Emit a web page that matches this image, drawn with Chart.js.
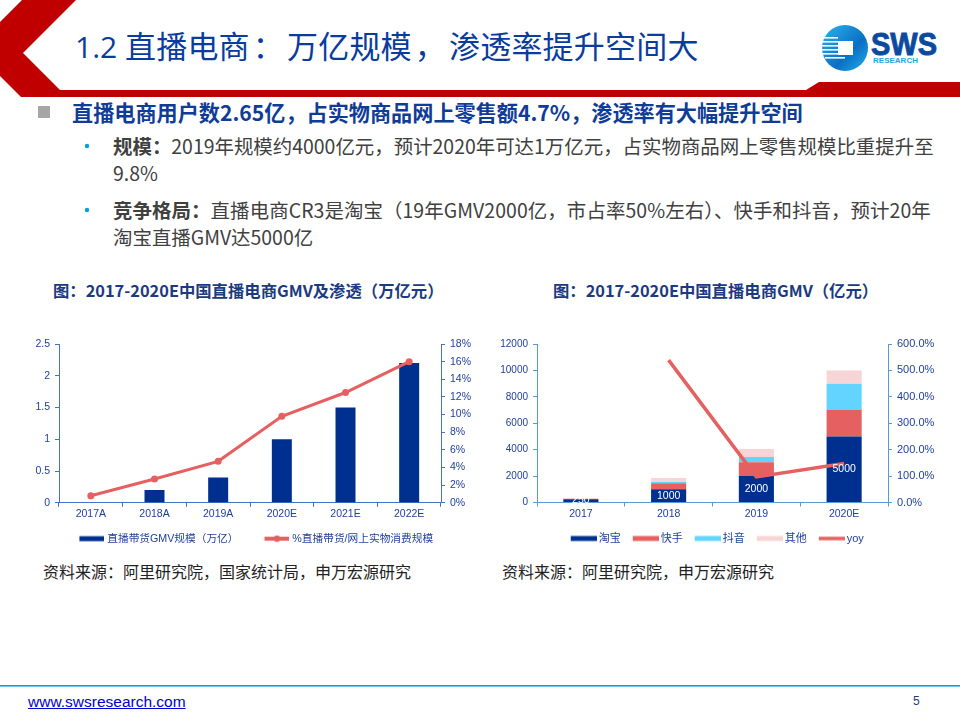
<!DOCTYPE html>
<html lang="zh"><head><meta charset="utf-8">
<script src="https://cdn.jsdelivr.net/npm/chart.js@4/dist/chart.umd.min.js"></script>
<style>
html,body{margin:0;padding:0;background:#fff;}
#s{position:relative;width:960px;height:720px;overflow:hidden;font-family:"Noto Sans CJK SC","Noto Sans",sans-serif;}
#s>div{position:absolute;white-space:nowrap;line-height:1;}
#s>svg{position:absolute;left:0;top:0;}
canvas{position:absolute;}
.h{color:#0a3c9c;font-family:"Open Sans","Noto Sans CJK TC",sans-serif;font-size:31px;left:75px;top:31px;letter-spacing:.2px;}
.h .n{font-size:30px;letter-spacing:0;}
.h .p{margin:0 3px;}
.b{color:#0f3c96;font-size:21.15px;font-weight:700;left:72px;top:101px;}
.t{color:#404040;font-size:19.45px;left:113px;}
.t b{font-weight:700;}
.c{color:#1c3a80;font-size:16.35px;font-weight:700;top:282px;}
.r{color:#222;font-size:16px;top:563px;}
</style></head><body><div id="s">
<svg width="960" height="720">
<defs><linearGradient id="g" x1="0" y1="0" x2="1" y2="1"><stop offset="0" stop-color="#2db4ee"/><stop offset=".6" stop-color="#0a6fc4"/><stop offset="1" stop-color="#22aee8"/></linearGradient></defs>
<polygon fill="#c00000" points="22,0 76,0 23,53 60,90 806,90 819,82 960,82 960,97 21,97 0,76 0,22"/>
<circle cx="845" cy="48" r="23" fill="url(#g)"/>
<g fill="#fff"><rect x="822" y="37" width="16" height="1.6"/><rect x="822" y="41" width="16" height="1.6"/><rect x="822" y="45" width="16" height="1.6"/><rect x="822" y="49" width="16" height="1.6"/><rect x="822" y="53" width="16" height="1.6"/><rect x="825" y="57" width="20" height="1.6"/><rect x="838" y="41" width="15" height="14"/></g>
<text x="871" y="55" font-family="Liberation Sans" font-weight="700" font-size="31" fill="#0b4a9f" stroke="#0b4a9f" stroke-width=".9" textLength="66" lengthAdjust="spacingAndGlyphs">SWS</text>
<text x="873" y="63" font-family="Liberation Sans" font-weight="700" font-size="7.5" fill="#1ba6df" textLength="45" lengthAdjust="spacingAndGlyphs">RESEARCH</text>
<rect x="38" y="106" width="12" height="12" fill="#a6a6a6"/>
<circle cx="87" cy="146" r="2.2" fill="#00a0e0"/><circle cx="87" cy="210" r="2.2" fill="#00a0e0"/>
<rect x="0" y="685" width="960" height="1.6" fill="#00a0e0"/>
</svg>
<div class="h"><span class="n">1.2 </span>直播电商<span class="p">：</span>万亿规模<span class="p">，</span>渗透率提升空间大</div>
<div class="b">直播电商用户数2.65亿，占实物商品网上零售额4.7%，渗透率有大幅提升空间</div>
<div class="t" style="top:136px"><b>规模：</b>2019年规模约4000亿元，预计2020年可达1万亿元，占实物商品网上零售规模比重提升至</div>
<div class="t" style="top:163px">9.8%</div>
<div class="t" style="top:200px;letter-spacing:.08px"><b>竞争格局：</b>直播电商CR3是淘宝（19年GMV2000亿，市占率50%左右）、快手和抖音，预计20年</div>
<div class="t" style="top:227px">淘宝直播GMV达5000亿</div>
<div class="c" style="left:53px">图：2017-2020E中国直播电商GMV及渗透（万亿元）</div>
<div class="c" style="left:553px">图：2017-2020E中国直播电商GMV（亿元）</div>
<div class="r" style="left:43px">资料来源：阿里研究院，国家统计局，申万宏源研究</div>
<div class="r" style="left:502px">资料来源：阿里研究院，申万宏源研究</div>
<div style="left:28px;top:693px;font:15.5px 'Liberation Sans';color:#0000d0;text-decoration:underline;">www.swsresearch.com</div>
<div style="left:913px;top:694px;font:12px 'Liberation Sans';color:#1c3a80;">5</div>
<canvas id="c1" width="462" height="225" style="left:15px;top:330px;width:462px;height:225px"></canvas>
<canvas id="c2" width="448" height="225" style="left:490px;top:330px;width:448px;height:225px"></canvas>
</div>
<script>
const years1 = ['2017A','2018A','2019A','2020E','2021E','2022E'];
const gmv1 = [0,0.2,0.4,1,1.5,2.2];
const share1 = [0.8,2.7,4.7,9.8,12.5,16];
const years2 = ['2017','2018','2019','2020E'];
const taobao = [250,1000,2000,5000];
const kuaishou = [40,450,1050,2000];
const douyin = [0,100,400,2000];
const others = [10,300,600,1000];
const yoy = [null,539,97,148];
const NAVY='#00308f', RED='#e56060', CYAN='#62d4ff', PINK='#f7d4d6', TXT='#1f3f99';
const FONT='"Liberation Sans","Noto Sans CJK SC",sans-serif';
Chart.defaults.animation=false; Chart.defaults.responsive=false;
Chart.defaults.font.family=FONT; Chart.defaults.font.size=10.5; Chart.defaults.color=TXT;

function swatch(total,w,h,color,dot){
  const c=document.createElement('canvas');c.width=total;c.height=12;
  const x=c.getContext('2d');x.fillStyle=color;
  x.fillRect(total-w,6-h/2,w,h);
  if(dot){x.beginPath();x.arc(total-w/2,6,3.2,0,Math.PI*2);x.fill();}
  return c;
}
function legend(order,swatches,width,pad,size){return {position:'bottom',labels:{usePointStyle:true,pointStyleWidth:width,padding:pad,boxHeight:10,
  color:TXT,font:{size:size,family:FONT},
  generateLabels:ch=>order.map((i,k)=>({text:ch.data.datasets[i].label,pointStyle:swatches[k],datasetIndex:i,fontColor:TXT,lineWidth:0,strokeStyle:'transparent',fillStyle:'transparent'}))}};}
function yAxis(axisColor,pos,w,max,step,size,cb){return {type:'linear',position:pos,min:0,max:max,
  afterFit:s=>{s.width=w;},
  border:{color:axisColor,width:1},
  grid:{drawOnChartArea:false,color:axisColor,tickLength:4,tickWidth:1},
  ticks:{stepSize:step,padding:5,color:TXT,font:{size:size,family:FONT},callback:cb}};}
function xAxis(axisColor,stacked){return {stacked:stacked,afterFit:s=>{s.height=25;},
  border:{color:axisColor,width:1},
  grid:{drawOnChartArea:false,color:axisColor,tickLength:4,offset:true},
  ticks:{color:TXT,padding:1,maxRotation:0,font:{size:10.5,family:FONT}}};}

new Chart(document.getElementById('c1'),{type:'bar',
 data:{labels:years1,datasets:[
  {type:'line',label:'%直播带货/网上实物消费规模',data:share1,yAxisID:'y1',borderColor:RED,backgroundColor:RED,borderWidth:3,pointRadius:3.5,pointBackgroundColor:RED,pointBorderWidth:0,tension:0,order:0},
  {label:'直播带货GMV规模（万亿）',data:gmv1,yAxisID:'y',backgroundColor:NAVY,barPercentage:.314,categoryPercentage:1,order:1}
 ]},
 options:{layout:{padding:{top:14,bottom:1,left:0,right:0}},
  plugins:{tooltip:{enabled:false},legend:legend([1,0],[swatch(48,25,5,NAVY,false),swatch(48,25,4,RED,true)],43,5.5,10.7)},
  scales:{x:xAxis('#4472c4',false),
   y:yAxis('#4472c4','left',44,2.5,.5,10.5),
   y1:yAxis('#4472c4','right',36,18,2,10.5,v=>v+'%')}}});

const labelPlugin={id:'barValues',afterDatasetsDraw(ch){
  const meta=ch.getDatasetMeta(1),ctx=ch.ctx;ctx.save();
  ctx.fillStyle='#fff';ctx.font='10.5px '+FONT;ctx.textAlign='center';ctx.textBaseline='middle';
  meta.data.forEach((el,i)=>{const v=ch.data.datasets[1].data[i];ctx.fillText(String(v),el.x,(el.y+el.base)/2);});
  ctx.restore();}};
new Chart(document.getElementById('c2'),{type:'bar',plugins:[labelPlugin],
 data:{labels:years2,datasets:[
  {type:'line',label:'yoy',data:yoy,yAxisID:'y1',borderColor:RED,borderWidth:3.5,pointRadius:0,tension:0,spanGaps:false,order:0},
  {label:'淘宝',data:taobao,yAxisID:'y',stack:'a',backgroundColor:NAVY,barPercentage:.4,categoryPercentage:1,order:1},
  {label:'快手',data:kuaishou,yAxisID:'y',stack:'a',backgroundColor:RED,barPercentage:.4,categoryPercentage:1,order:2},
  {label:'抖音',data:douyin,yAxisID:'y',stack:'a',backgroundColor:CYAN,barPercentage:.4,categoryPercentage:1,order:3},
  {label:'其他',data:others,yAxisID:'y',stack:'a',backgroundColor:PINK,barPercentage:.4,categoryPercentage:1,order:4}
 ]},
 options:{layout:{padding:{top:14,bottom:1,left:0,right:0}},
  plugins:{tooltip:{enabled:false},legend:legend([1,2,3,4,0],[swatch(36,26,5,NAVY),swatch(36,26,5,RED),swatch(36,26,5,CYAN),swatch(36,26,5,PINK),swatch(36,26,3.5,RED)],29,5.5,11)},
  scales:{x:xAxis('#5b9bd5',true),
   y:(()=>{const a=yAxis('#5b9bd5','left',47,12000,2000,10);a.stacked=true;return a;})(),
   y1:yAxis('#5b9bd5','right',50,600,100,11,v=>v.toFixed(1)+'%')}}});
</script></body></html>
